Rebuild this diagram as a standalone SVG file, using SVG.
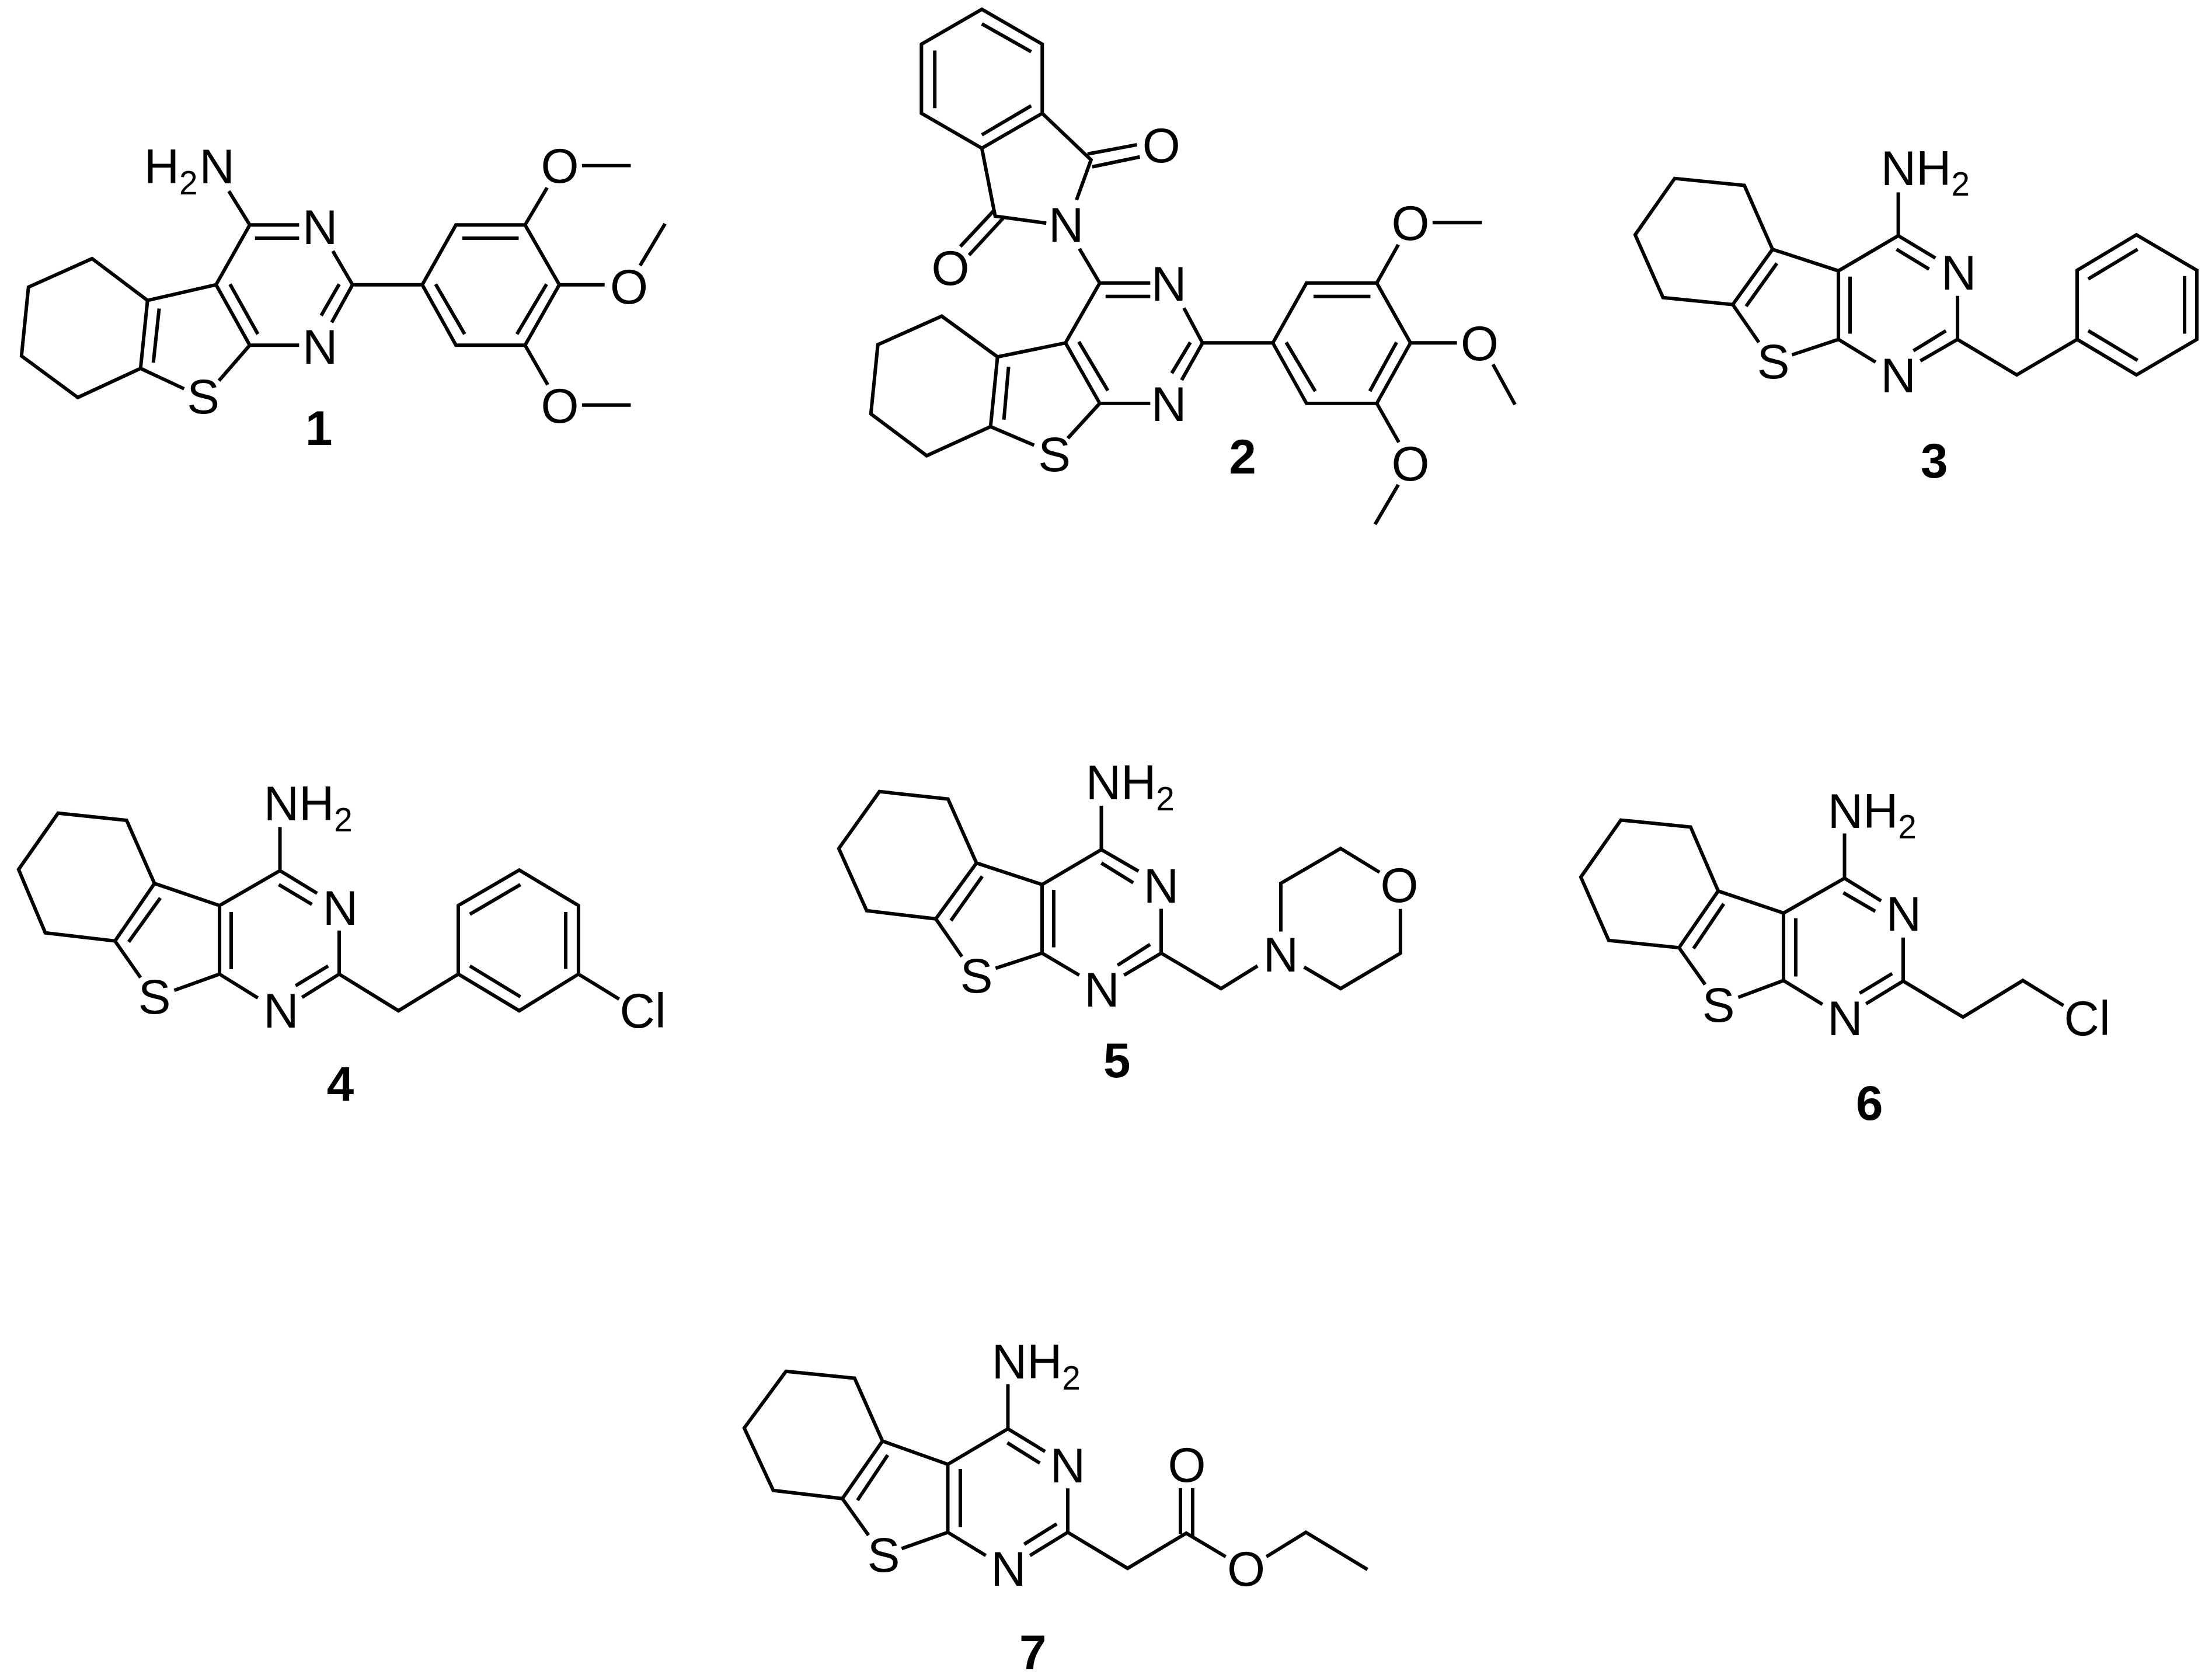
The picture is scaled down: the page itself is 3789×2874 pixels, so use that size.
<svg xmlns="http://www.w3.org/2000/svg" width="3789" height="2874" viewBox="0 0 3789 2874">
<style>
.b{fill:none;stroke:#000;stroke-width:6;stroke-linejoin:miter;stroke-linecap:butt}
text{font-family:"Liberation Sans",Arial,sans-serif;font-size:84px;fill:#000}
.m{text-anchor:middle}
.s{font-size:57px}
.l{font-size:84px;font-weight:bold;text-anchor:middle}
</style>
<rect width="3789" height="2874" fill="#fff"/>
<g id="connectors">
<path id="bonds-1" transform="matrix(.9949 0 0 .9955 0 .9)" class="b" d="M158.5 444L49 493L37 611.5L134 683L242 633L254 516Z M254 516L372 489L430 386L515 386 M372 489L430 593L515 593 M439 409L515 409 M396 488L444 574 M274 530L264 623 M242 633L317 668 M430 593L377 654 M430 386L394 328 M573 431L607 489L571 554 M584 488L553 542 M607 489L727 489 M727 489L785 386L904 386L963 489L904 593L785 593Z M796 409L893 409 M941 488L890 574 M750 488L800 574 M904 386L942 322 M1002 284L1086 284 M963 489L1041 489 M1102 456L1145 384 M904 593L943 661 M1002 696L1086 696"/>
<path id="bonds-2" transform="matrix(.9949 0 0 .9955 7.4 0)" class="b" d="M1683 16L1787 76L1787 195L1683 255L1579 195L1579 76Z M1683 41L1768 89 M1602 87L1602 186 M1683 232L1768 182 M1787 195L1871 275L1846 344 M1683 255L1706 372L1794 384 M1865 265L1950 249 M1873 287L1955 270 M1704 362L1646 424 M1721 374L1661 439 M1851 428L1886 487L1827 590L1886 694L1973 694 M1886 487L1973 487 M1896 510L1973 510 M2031 530L2063 590L2027 654 M2042 589L2010 642 M1850 588L1900 672 M1827 590L1710 614L1614 544L1504 593L1492 712L1588 784L1698 734L1710 614 M1729 631L1721 722 M1698 734L1773 766 M1886 694L1831 754 M2063 590L2184 590 M2184 590L2242 487L2363 487L2421 590L2363 694L2242 694Z M2254 510L2352 510 M2397 589L2351 673 M2207 589L2257 673 M2363 487L2400 421 M2459 383L2544 383 M2421 590L2501 590 M2563 627L2601 696 M2363 694L2401 761 M2400 834L2360 902"/>
<path id="bonds-3" transform="matrix(.9949 0 0 .9955 14.2 .99)" class="b" d="M2869 306L2989 318L3037.5 428L2969 523L2849 511L2801 403Z M3037.5 428L3151 465L3254 404.5L3318 443 M3151 465L3151 583L3215 622 M3254 404.5L3254 330 M3251 428L3307 462 M3356 508L3356 583L3292 620 M3336 568L3280 602.5 M3171 475L3171 573 M3045 452L2992 526 M2969 523L3014 588 M3151 583L3071 609.5 M3356 583L3458 644L3562 583 M3562 583L3562 464L3664 403L3768 464L3768 583L3664 644Z M3581 479L3666 428 M3747 474L3747 573 M3581 568L3666 619"/>
<path id="bonds-4" transform="matrix(.9949 0 0 .9955 0 5.94)" class="b" d="M100 1393L218 1405.5L266 1514L198 1613L78 1599L32 1490Z M266 1514L378 1552L482 1492L546 1531 M378 1552L378 1670L444 1711 M482 1492L482 1417 M480 1516L537 1550 M584 1595L584 1670L520 1710 M565 1656L509 1690 M398 1563L398 1661.5 M276 1539L221.5 1614.5 M198 1613L242 1676 M378 1670L300 1698 M584 1670L686 1733L789 1670 M789 1670L789 1552L894 1491L996 1552L996 1670L894 1733Z M809 1567L896 1516 M974 1563L974 1661 M809 1656L896 1709 M996 1670L1066 1713"/>
<path id="bonds-5" transform="matrix(.9949 0 0 .9955 7.14 5.8)" class="b" d="M1507 1356L1625 1369L1674 1479L1604 1575L1485 1561L1437 1454Z M1674 1479L1787 1516L1889 1456L1953 1493 M1787 1516L1787 1634L1851 1672 M1889 1456L1889 1380.5 M1889 1479L1944 1513 M1992 1557.6L1992 1634L1928 1672 M1973 1619L1917 1655 M1807 1525L1807 1624 M1684 1502L1630 1578 M1604 1575L1649 1640 M1787 1634L1707 1660 M1992 1634L2095 1695L2158 1656 M2198 1597L2198 1514L2301 1454L2368 1495 M2404 1558L2404 1634L2301 1695L2238 1658"/>
<path id="bonds-6" transform="matrix(.9949 0 0 .9955 13.67 5.94)" class="b" d="M2777 1405L2897 1417L2944.5 1527L2877 1624.5L2756 1612L2708 1503Z M2944.5 1527L3057 1565L3162 1505L3225 1544 M3057 1565L3057 1681L3124 1722 M3162 1505L3162 1428 M3160 1530L3215 1562 M3263 1607L3263 1682L3199 1721 M3244 1669L3188 1703 M3078 1574L3078 1674 M2954 1549L2902 1626 M2877 1624.5L2922 1688 M3057 1681L2979 1710 M3263 1682L3366 1744L3469 1681L3539 1724"/>
<path id="bonds-7" transform="matrix(.9949 0 0 .9955 6.32 10.26)" class="b" d="M1347 2349L1465 2361L1513 2469L1444 2568L1325 2554L1275 2446.5Z M1513 2469L1625.5 2509L1729 2448L1793 2487 M1625.5 2509L1625.5 2626L1691 2666 M1729 2448L1729 2371.5 M1728 2472L1784 2507 M1832 2550.5L1832 2626L1767 2666 M1813 2611.5L1757 2646.5 M1647 2517L1647 2617 M1522 2493L1470 2571 M1444 2568L1489 2631 M1625.5 2626L1546 2654 M1832 2626L1935 2688L2036 2627.5L2104 2668 M2026 2550L2026 2629 M2047 2550L2047 2633 M2174 2668L2242 2626L2348 2690"/>
</g>
<g id="compound-1" transform="matrix(.9949 0 0 .9955 0 .9)">
<text x="248" y="315">H<tspan class="s" dy="19">2</tspan><tspan dy="-19" dx="3">N</tspan></text>
<text class="m" x="551" y="419">N</text><text class="m" x="551" y="625">N</text><text class="m" x="350" y="710">S</text>
<text class="m" x="964" y="314">O</text><text class="m" x="1083" y="521">O</text><text class="m" x="964" y="726">O</text>
<text class="l" x="549" y="765">1</text>
</g>
<g id="compound-2" transform="matrix(.9949 0 0 .9955 7.4 0)">
<text class="m" x="1828" y="416">N</text><text class="m" x="1992" y="279">O</text><text class="m" x="1629" y="490">O</text>
<text class="m" x="2005" y="517">N</text><text class="m" x="2005" y="724">N</text><text class="m" x="1808" y="811">S</text>
<text class="m" x="2421" y="413">O</text><text class="m" x="2540" y="620">O</text><text class="m" x="2421" y="827">O</text>
<text class="l" x="2132" y="815">2</text>
</g>
<g id="compound-3" transform="matrix(.9949 0 0 .9955 14.2 .99)">
<text x="3224" y="317">NH<tspan class="s" dy="19">2</tspan></text>
<text class="m" x="3358" y="497">N</text><text class="m" x="3254" y="674">N</text><text class="m" x="3039" y="650">S</text>
<text class="l" x="3316" y="821">3</text>
</g>
<g id="compound-4" transform="matrix(.9949 0 0 .9955 0 5.94)">
<text x="454" y="1405">NH<tspan class="s" dy="19">2</tspan></text>
<text class="m" x="586" y="1585">N</text><text class="m" x="484" y="1762">N</text><text class="m" x="266" y="1738">S</text>
<text x="1067" y="1762">Cl</text>
<text class="l" x="586" y="1889">4</text>
</g>
<g id="compound-5" transform="matrix(.9949 0 0 .9955 7.14 5.8)">
<text x="1862" y="1369">NH<tspan class="s" dy="19">2</tspan></text>
<text class="m" x="1992" y="1547">N</text><text class="m" x="1890" y="1726">N</text><text class="m" x="1674" y="1702">S</text>
<text class="m" x="2198" y="1666">N</text><text class="m" x="2402" y="1546">O</text>
<text class="l" x="1916" y="1848">5</text>
</g>
<g id="compound-6" transform="matrix(.9949 0 0 .9955 13.67 5.94)">
<text x="3133" y="1418">NH<tspan class="s" dy="19">2</tspan></text>
<text class="m" x="3264" y="1595">N</text><text class="m" x="3163" y="1775">N</text><text class="m" x="2945" y="1752">S</text>
<text x="3540" y="1775">Cl</text>
<text class="l" x="3205" y="1921">6</text>
</g>
<g id="compound-7" transform="matrix(.9949 0 0 .9955 6.32 10.26)">
<text x="1701" y="2361">NH<tspan class="s" dy="19">2</tspan></text>
<text class="m" x="1832" y="2540">N</text><text class="m" x="1730" y="2718">N</text><text class="m" x="1515" y="2694">S</text>
<text class="m" x="2037" y="2539">O</text><text class="m" x="2139" y="2718">O</text>
<text class="l" x="1772" y="2862">7</text>
</g>
</svg>
